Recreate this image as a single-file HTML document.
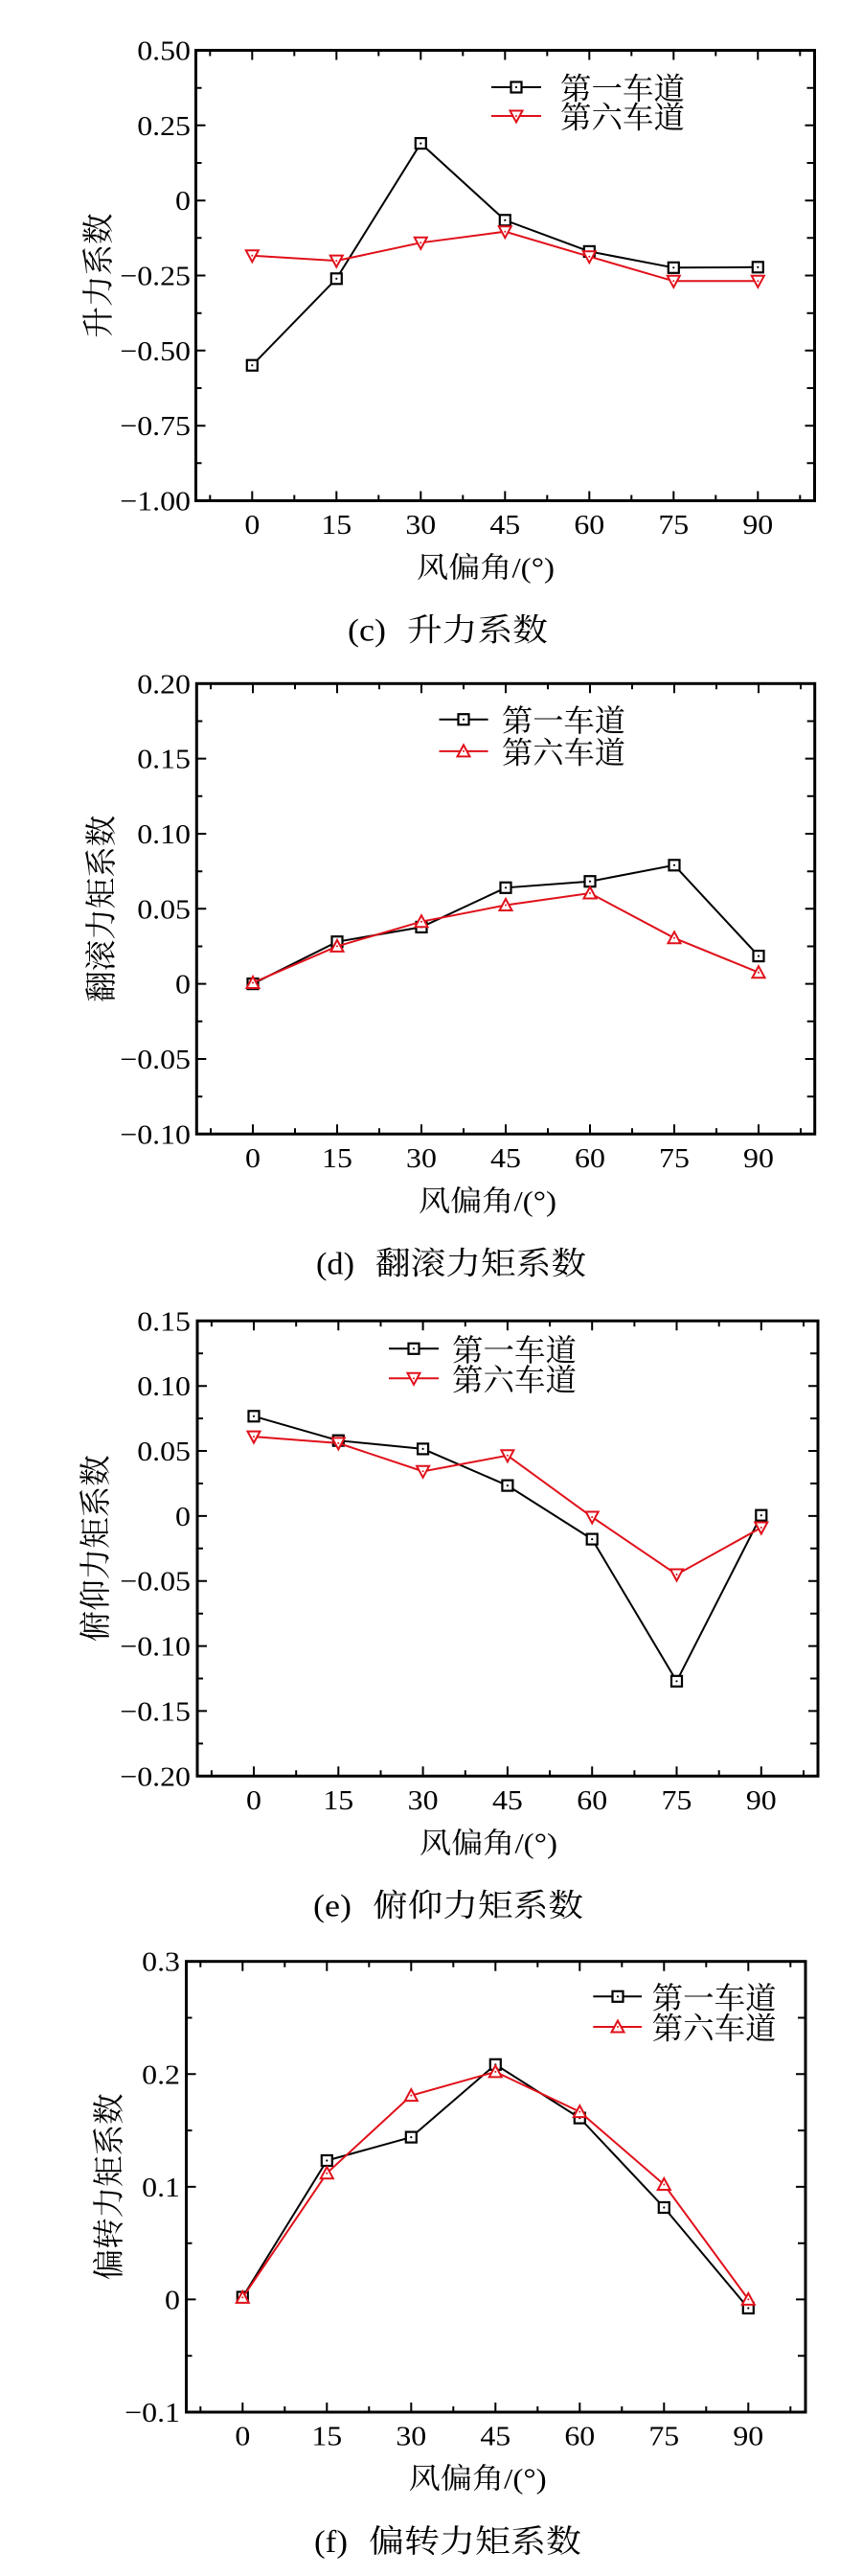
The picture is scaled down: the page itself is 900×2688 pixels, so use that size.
<!DOCTYPE html>
<html><head><meta charset="utf-8"><style>
html,body{margin:0;padding:0;background:#fff;}
svg{display:block;}
text{font-family:"Liberation Serif","Noto Serif CJK SC",serif;fill:#000;}
.n{font-size:29px;}
.t{font-size:30px;}
.c{font-size:33px;}
.l{font-size:32px;}
.y{font-size:33px;}
</style></head><body>
<svg width="900" height="2688" viewBox="0 0 900 2688" xmlns="http://www.w3.org/2000/svg">
<defs>
<g id="sq"><rect x="-5.5" y="-5.5" width="11" height="11" fill="#fff" stroke="#000" stroke-width="2.2"/><circle r="1.1" fill="#000"/></g>
<g id="td"><polygon points="-6.5,-5.5 6.5,-5.5 0,6.5" fill="#fff" stroke="#e0101a" stroke-width="2"/><circle r="1" fill="#e0101a"/></g>
<g id="tu"><polygon points="-6.5,5.5 6.5,5.5 0,-6.5" fill="#fff" stroke="#e0101a" stroke-width="2"/><circle r="1" fill="#e0101a"/></g>
</defs>

<!-- ===== Chart 1 (c) ===== -->
<rect x="204.5" y="52.5" width="646" height="470" fill="none" stroke="#000" stroke-width="3"/>
<path fill="none" stroke="#000" stroke-width="2" d="
M263.3 522.5v-10M351.3 522.5v-10M439.3 522.5v-10M527.3 522.5v-10M615.3 522.5v-10M703.3 522.5v-10M791.3 522.5v-10
M263.3 52.5v10M351.3 52.5v10M439.3 52.5v10M527.3 52.5v10M615.3 52.5v10M703.3 52.5v10M791.3 52.5v10
M219.3 522.5v-6M307.3 522.5v-6M395.3 522.5v-6M483.3 522.5v-6M571.3 522.5v-6M659.3 522.5v-6M747.3 522.5v-6M835.3 522.5v-6
M219.3 52.5v6M307.3 52.5v6M395.3 52.5v6M483.3 52.5v6M571.3 52.5v6M659.3 52.5v6M747.3 52.5v6M835.3 52.5v6
M204.5 130.8h10M204.5 209.2h10M204.5 287.5h10M204.5 365.8h10M204.5 444.2h10
M204.5 91.7h6M204.5 170h6M204.5 248.3h6M204.5 326.7h6M204.5 405h6M204.5 483.3h6
M850.5 130.8h-10M850.5 209.2h-10M850.5 287.5h-10M850.5 365.8h-10M850.5 444.2h-10
M850.5 91.7h-8M850.5 170h-8M850.5 248.3h-8M850.5 326.7h-8M850.5 405h-8M850.5 483.3h-8"/>
<g class="n" text-anchor="end">
<text transform="translate(199,62.5) scale(1.1,1)">0.50</text>
<text transform="translate(199,140.8) scale(1.1,1)">0.25</text>
<text transform="translate(199,219.2) scale(1.1,1)">0</text>
<text transform="translate(199,297.5) scale(1.1,1)">−0.25</text>
<text transform="translate(199,375.8) scale(1.1,1)">−0.50</text>
<text transform="translate(199,454.2) scale(1.1,1)">−0.75</text>
<text transform="translate(199,532.5) scale(1.1,1)">−1.00</text>
</g>
<g class="n" text-anchor="middle">
<text transform="translate(263.3,557) scale(1.1,1)">0</text>
<text transform="translate(351.3,557) scale(1.1,1)">15</text>
<text transform="translate(439.3,557) scale(1.1,1)">30</text>
<text transform="translate(527.3,557) scale(1.1,1)">45</text>
<text transform="translate(615.3,557) scale(1.1,1)">60</text>
<text transform="translate(703.3,557) scale(1.1,1)">75</text>
<text transform="translate(791.3,557) scale(1.1,1)">90</text>
</g>
<text class="t" x="435" y="602.5" textLength="144" lengthAdjust="spacingAndGlyphs">风偏角/(°)</text>
<text class="y" transform="translate(114,287.5) rotate(-90)" text-anchor="middle" textLength="130" lengthAdjust="spacingAndGlyphs">升力系数</text>
<text class="c" x="363" y="668.5" textLength="40" lengthAdjust="spacingAndGlyphs">(c)</text>
<text class="c" x="425" y="668.5" textLength="147" lengthAdjust="spacingAndGlyphs">升力系数</text>
<polyline fill="none" stroke="#000" stroke-width="2" points="263.3,381.2 351.3,290.8 439.3,149.6 527.3,229.8 615.3,262.4 703.3,279.3 791.3,278.8"/>
<use href="#sq" x="263.3" y="381.2"/><use href="#sq" x="351.3" y="290.8"/><use href="#sq" x="439.3" y="149.6"/><use href="#sq" x="527.3" y="229.8"/><use href="#sq" x="615.3" y="262.4"/><use href="#sq" x="703.3" y="279.3"/><use href="#sq" x="791.3" y="278.8"/>
<polyline fill="none" stroke="#e0101a" stroke-width="2" points="263.3,266.8 351.3,272.1 439.3,253.3 527.3,241.7 615.3,267.7 703.3,293.3 791.3,293.3"/>
<use href="#td" x="263.3" y="266.8"/><use href="#td" x="351.3" y="272.1"/><use href="#td" x="439.3" y="253.3"/><use href="#td" x="527.3" y="241.7"/><use href="#td" x="615.3" y="267.7"/><use href="#td" x="703.3" y="293.3"/><use href="#td" x="791.3" y="293.3"/>
<path d="M513 91H565" stroke="#000" stroke-width="2"/><use href="#sq" x="539" y="91"/>
<path d="M513 121H565" stroke="#e0101a" stroke-width="2"/><use href="#td" x="539" y="121"/>
<text class="l" x="585" y="103.5" textLength="130" lengthAdjust="spacingAndGlyphs">第一车道</text>
<text class="l" x="585" y="133.5" textLength="130" lengthAdjust="spacingAndGlyphs">第六车道</text>

<!-- ===== Chart 2 (d) ===== -->
<rect x="205.3" y="713.3" width="645.4" height="470" fill="none" stroke="#000" stroke-width="3"/>
<path fill="none" stroke="#000" stroke-width="2" d="
M264 1183.3v-10M352 1183.3v-10M440 1183.3v-10M528 1183.3v-10M616 1183.3v-10M704 1183.3v-10M792 1183.3v-10
M264 713.3v10M352 713.3v10M440 713.3v10M528 713.3v10M616 713.3v10M704 713.3v10M792 713.3v10
M220 1183.3v-6M308 1183.3v-6M396 1183.3v-6M484 1183.3v-6M572 1183.3v-6M660 1183.3v-6M748 1183.3v-6M836 1183.3v-6
M220 713.3v6M308 713.3v6M396 713.3v6M484 713.3v6M572 713.3v6M660 713.3v6M748 713.3v6M836 713.3v6
M205.3 791.6h10M205.3 870h10M205.3 948.3h10M205.3 1026.6h10M205.3 1105h10
M205.3 752.5h6M205.3 830.8h6M205.3 909.2h6M205.3 987.5h6M205.3 1065.8h6M205.3 1144.2h6
M850.7 791.6h-10M850.7 870h-10M850.7 948.3h-10M850.7 1026.6h-10M850.7 1105h-10
M850.7 752.5h-8M850.7 830.8h-8M850.7 909.2h-8M850.7 987.5h-8M850.7 1065.8h-8M850.7 1144.2h-8"/>
<g class="n" text-anchor="end">
<text transform="translate(199,723.3) scale(1.1,1)">0.20</text>
<text transform="translate(199,801.6) scale(1.1,1)">0.15</text>
<text transform="translate(199,880) scale(1.1,1)">0.10</text>
<text transform="translate(199,958.3) scale(1.1,1)">0.05</text>
<text transform="translate(199,1036.6) scale(1.1,1)">0</text>
<text transform="translate(199,1115) scale(1.1,1)">−0.05</text>
<text transform="translate(199,1193.3) scale(1.1,1)">−0.10</text>
</g>
<g class="n" text-anchor="middle">
<text transform="translate(264,1218) scale(1.1,1)">0</text>
<text transform="translate(352,1218) scale(1.1,1)">15</text>
<text transform="translate(440,1218) scale(1.1,1)">30</text>
<text transform="translate(528,1218) scale(1.1,1)">45</text>
<text transform="translate(616,1218) scale(1.1,1)">60</text>
<text transform="translate(704,1218) scale(1.1,1)">75</text>
<text transform="translate(792,1218) scale(1.1,1)">90</text>
</g>
<text class="t" x="437" y="1263.3" textLength="144" lengthAdjust="spacingAndGlyphs">风偏角/(°)</text>
<text class="y" transform="translate(117,948.3) rotate(-90)" text-anchor="middle" textLength="195" lengthAdjust="spacingAndGlyphs">翻滚力矩系数</text>
<text class="c" x="330" y="1329.3" textLength="40" lengthAdjust="spacingAndGlyphs">(d)</text>
<text class="c" x="392" y="1329.3" textLength="220" lengthAdjust="spacingAndGlyphs">翻滚力矩系数</text>
<polyline fill="none" stroke="#000" stroke-width="2" points="264,1026.6 352,982.7 440,967.4 528,926.3 616,919.7 704,902.8 792,997.6"/>
<use href="#sq" x="264" y="1026.6"/><use href="#sq" x="352" y="982.7"/><use href="#sq" x="440" y="967.4"/><use href="#sq" x="528" y="926.3"/><use href="#sq" x="616" y="919.7"/><use href="#sq" x="704" y="902.8"/><use href="#sq" x="792" y="997.6"/>
<polyline fill="none" stroke="#e0101a" stroke-width="2" points="264,1025.5 352,987.4 440,961.7 528,944.5 616,932 704,978.8 792,1014.7"/>
<use href="#tu" x="264" y="1025.5"/><use href="#tu" x="352" y="987.4"/><use href="#tu" x="440" y="961.7"/><use href="#tu" x="528" y="944.5"/><use href="#tu" x="616" y="932"/><use href="#tu" x="704" y="978.8"/><use href="#tu" x="792" y="1014.7"/>
<path d="M458.5 750.7H509.6" stroke="#000" stroke-width="2"/><use href="#sq" x="484" y="750.7"/>
<path d="M458.5 783.9H509.6" stroke="#e0101a" stroke-width="2"/><use href="#tu" x="484" y="783.9"/>
<text class="l" x="524" y="763.2" textLength="129" lengthAdjust="spacingAndGlyphs">第一车道</text>
<text class="l" x="524" y="796.4" textLength="129" lengthAdjust="spacingAndGlyphs">第六车道</text>

<!-- ===== Chart 3 (e) ===== -->
<rect x="206" y="1378.3" width="648" height="475" fill="none" stroke="#000" stroke-width="3"/>
<path fill="none" stroke="#000" stroke-width="2" d="
M265 1853.3v-10M353.3 1853.3v-10M441.6 1853.3v-10M529.9 1853.3v-10M618.2 1853.3v-10M706.5 1853.3v-10M794.8 1853.3v-10
M265 1378.3v10M353.3 1378.3v10M441.6 1378.3v10M529.9 1378.3v10M618.2 1378.3v10M706.5 1378.3v10M794.8 1378.3v10
M220.9 1853.3v-6M309.2 1853.3v-6M397.5 1853.3v-6M485.8 1853.3v-6M574.1 1853.3v-6M662.4 1853.3v-6M750.7 1853.3v-6M839 1853.3v-6
M220.9 1378.3v6M309.2 1378.3v6M397.5 1378.3v6M485.8 1378.3v6M574.1 1378.3v6M662.4 1378.3v6M750.7 1378.3v6M839 1378.3v6
M206 1446.2h10M206 1514h10M206 1581.9h10M206 1649.7h10M206 1717.6h10M206 1785.4h10
M206 1412.2h6M206 1480.1h6M206 1548h6M206 1615.8h6M206 1683.7h6M206 1751.5h6M206 1819.4h6
M854 1446.2h-10M854 1514h-10M854 1581.9h-10M854 1649.7h-10M854 1717.6h-10M854 1785.4h-10
M854 1412.2h-8M854 1480.1h-8M854 1548h-8M854 1615.8h-8M854 1683.7h-8M854 1751.5h-8M854 1819.4h-8"/>
<g class="n" text-anchor="end">
<text transform="translate(199,1388.3) scale(1.1,1)">0.15</text>
<text transform="translate(199,1456.2) scale(1.1,1)">0.10</text>
<text transform="translate(199,1524) scale(1.1,1)">0.05</text>
<text transform="translate(199,1591.9) scale(1.1,1)">0</text>
<text transform="translate(199,1659.7) scale(1.1,1)">−0.05</text>
<text transform="translate(199,1727.6) scale(1.1,1)">−0.10</text>
<text transform="translate(199,1795.4) scale(1.1,1)">−0.15</text>
<text transform="translate(199,1863.3) scale(1.1,1)">−0.20</text>
</g>
<g class="n" text-anchor="middle">
<text transform="translate(265,1888) scale(1.1,1)">0</text>
<text transform="translate(353.3,1888) scale(1.1,1)">15</text>
<text transform="translate(441.6,1888) scale(1.1,1)">30</text>
<text transform="translate(529.9,1888) scale(1.1,1)">45</text>
<text transform="translate(618.2,1888) scale(1.1,1)">60</text>
<text transform="translate(706.5,1888) scale(1.1,1)">75</text>
<text transform="translate(794.8,1888) scale(1.1,1)">90</text>
</g>
<text class="t" x="438" y="1933.3" textLength="144" lengthAdjust="spacingAndGlyphs">风偏角/(°)</text>
<text class="y" transform="translate(111,1615.8) rotate(-90)" text-anchor="middle" textLength="195" lengthAdjust="spacingAndGlyphs">俯仰力矩系数</text>
<text class="c" x="327" y="1999.3" textLength="40" lengthAdjust="spacingAndGlyphs">(e)</text>
<text class="c" x="389" y="1999.3" textLength="220" lengthAdjust="spacingAndGlyphs">俯仰力矩系数</text>
<polyline fill="none" stroke="#000" stroke-width="2" points="265,1477.8 353.3,1503.2 441.6,1511.9 529.9,1550.1 618.2,1606.1 706.5,1754.3 794.8,1581.2"/>
<use href="#sq" x="265" y="1477.8"/><use href="#sq" x="353.3" y="1503.2"/><use href="#sq" x="441.6" y="1511.9"/><use href="#sq" x="529.9" y="1550.1"/><use href="#sq" x="618.2" y="1606.1"/><use href="#sq" x="706.5" y="1754.3"/><use href="#sq" x="794.8" y="1581.2"/>
<polyline fill="none" stroke="#e0101a" stroke-width="2" points="265,1499.1 353.3,1505.9 441.6,1535.3 529.9,1518.8 618.2,1583 706.5,1643 794.8,1594"/>
<use href="#td" x="265" y="1499.1"/><use href="#td" x="353.3" y="1505.9"/><use href="#td" x="441.6" y="1535.3"/><use href="#td" x="529.9" y="1518.8"/><use href="#td" x="618.2" y="1583"/><use href="#td" x="706.5" y="1643"/><use href="#td" x="794.8" y="1594"/>
<path d="M406 1407.3H458" stroke="#000" stroke-width="2"/><use href="#sq" x="432" y="1407.3"/>
<path d="M406 1438.3H458" stroke="#e0101a" stroke-width="2"/><use href="#td" x="432" y="1438.3"/>
<text class="l" x="472" y="1419.8" textLength="130" lengthAdjust="spacingAndGlyphs">第一车道</text>
<text class="l" x="472" y="1450.8" textLength="130" lengthAdjust="spacingAndGlyphs">第六车道</text>

<!-- ===== Chart 4 (f) ===== -->
<rect x="194.5" y="2046.7" width="646.5" height="470.3" fill="none" stroke="#000" stroke-width="3"/>
<path fill="none" stroke="#000" stroke-width="2" d="
M253.3 2517v-10M341.3 2517v-10M429.3 2517v-10M517.3 2517v-10M605.3 2517v-10M693.3 2517v-10M781.3 2517v-10
M253.3 2046.7v10M341.3 2046.7v10M429.3 2046.7v10M517.3 2046.7v10M605.3 2046.7v10M693.3 2046.7v10M781.3 2046.7v10
M209.3 2517v-6M297.3 2517v-6M385.3 2517v-6M473.3 2517v-6M561.3 2517v-6M649.3 2517v-6M737.3 2517v-6M825.3 2517v-6
M209.3 2046.7v6M297.3 2046.7v6M385.3 2046.7v6M473.3 2046.7v6M561.3 2046.7v6M649.3 2046.7v6M737.3 2046.7v6M825.3 2046.7v6
M194.5 2164.3h10M194.5 2281.9h10M194.5 2399.4h10
M194.5 2105.5h6M194.5 2223.1h6M194.5 2340.7h6M194.5 2458.2h6
M841 2164.3h-10M841 2281.9h-10M841 2399.4h-10
M841 2105.5h-8M841 2223.1h-8M841 2340.7h-8M841 2458.2h-8"/>
<g class="n" text-anchor="end">
<text transform="translate(188,2056.7) scale(1.1,1)">0.3</text>
<text transform="translate(188,2174.3) scale(1.1,1)">0.2</text>
<text transform="translate(188,2291.9) scale(1.1,1)">0.1</text>
<text transform="translate(188,2409.4) scale(1.1,1)">0</text>
<text transform="translate(188,2527) scale(1.1,1)">−0.1</text>
</g>
<g class="n" text-anchor="middle">
<text transform="translate(253.3,2551.5) scale(1.1,1)">0</text>
<text transform="translate(341.3,2551.5) scale(1.1,1)">15</text>
<text transform="translate(429.3,2551.5) scale(1.1,1)">30</text>
<text transform="translate(517.3,2551.5) scale(1.1,1)">45</text>
<text transform="translate(605.3,2551.5) scale(1.1,1)">60</text>
<text transform="translate(693.3,2551.5) scale(1.1,1)">75</text>
<text transform="translate(781.3,2551.5) scale(1.1,1)">90</text>
</g>
<text class="t" x="426.7" y="2596.5" textLength="144" lengthAdjust="spacingAndGlyphs">风偏角/(°)</text>
<text class="y" transform="translate(125,2281.9) rotate(-90)" text-anchor="middle" textLength="195" lengthAdjust="spacingAndGlyphs">偏转力矩系数</text>
<text class="c" x="328" y="2663" textLength="35" lengthAdjust="spacingAndGlyphs">(f)</text>
<text class="c" x="385" y="2663" textLength="222" lengthAdjust="spacingAndGlyphs">偏转力矩系数</text>
<polyline fill="none" stroke="#000" stroke-width="2" points="253.3,2397 341.3,2254.5 429.3,2230.1 517.3,2154.3 605.3,2210.1 693.3,2303.5 781.3,2408.5"/>
<use href="#sq" x="253.3" y="2397"/><use href="#sq" x="341.3" y="2254.5"/><use href="#sq" x="429.3" y="2230.1"/><use href="#sq" x="517.3" y="2154.3"/><use href="#sq" x="605.3" y="2210.1"/><use href="#sq" x="693.3" y="2303.5"/><use href="#sq" x="781.3" y="2408.5"/>
<polyline fill="none" stroke="#e0101a" stroke-width="2" points="253.3,2397.4 341.3,2267.7 429.3,2186.6 517.3,2161.9 605.3,2203.6 693.3,2279.5 781.3,2399.4"/>
<use href="#tu" x="253.3" y="2397.4"/><use href="#tu" x="341.3" y="2267.7"/><use href="#tu" x="429.3" y="2186.6"/><use href="#tu" x="517.3" y="2161.9"/><use href="#tu" x="605.3" y="2203.6"/><use href="#tu" x="693.3" y="2279.5"/><use href="#tu" x="781.3" y="2399.4"/>
<path d="M619.3 2083.3H670" stroke="#000" stroke-width="2"/><use href="#sq" x="645" y="2083.3"/>
<path d="M619.3 2115H670" stroke="#e0101a" stroke-width="2"/><use href="#tu" x="645" y="2115"/>
<text class="l" x="680.7" y="2095.8" textLength="130" lengthAdjust="spacingAndGlyphs">第一车道</text>
<text class="l" x="680.7" y="2127.5" textLength="130" lengthAdjust="spacingAndGlyphs">第六车道</text>
</svg>
</body></html>
